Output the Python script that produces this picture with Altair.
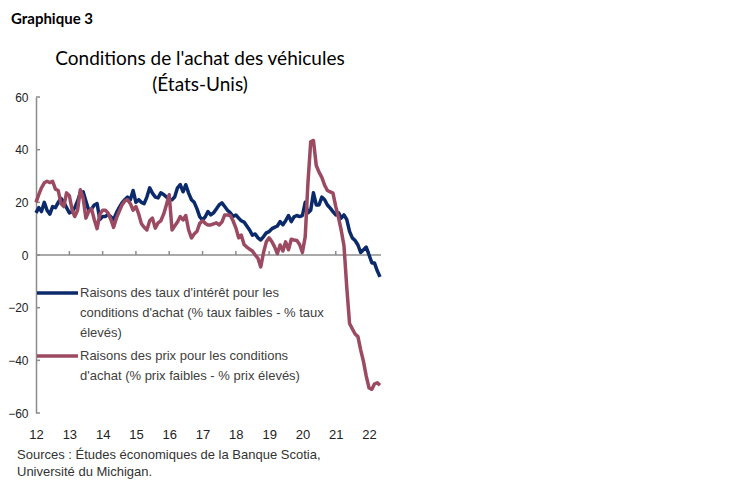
import altair as alt
import pandas as pd

months = pd.date_range("2012-01-01", "2022-05-01", freq="MS")

taux = [16, 18, 16.5, 20, 17, 15.5, 18.4, 18, 20, 21.5, 20, 18,
        16, 16.5, 18, 20.5, 23.6, 24, 20.5, 17, 17.5, 19, 19.5, 13.5,
        14.6, 14.6, 15.5, 14.5, 13.5, 16, 18, 19.8, 21, 22, 21, 24.5,
        20, 21, 20, 19.5, 22, 25.5, 23.5, 22, 21.7, 23.6, 23, 22,
        21, 21, 22, 25.5, 26.7, 24, 26.7, 23.5, 21, 20, 17.5, 14.5,
        13.3, 14.6, 16.5, 15.2, 16, 17.5, 19, 19.8, 18.4, 17, 16, 14.6,
        15.2, 14, 13, 12.5, 11, 9.5, 7.5, 8, 6.5, 5.7, 7, 8.4,
        8.9, 10, 10.5, 11, 12.7, 11.5, 13, 15, 12.7, 14.5, 15, 14.6,
        15, 20, 16, 17, 23.6, 19, 19, 22, 21, 19, 17.8, 16.5,
        15.2, 16, 14, 15.2, 13.5, 9, 6.5, 5.5, 3.8, 1, 2, 3,
        0, -3, -3, -6, -8.3]

prix = [20, 23, 25.5, 27.4, 28, 27.5, 28, 25, 24.5, 19.5, 18.4, 23.6,
        22.5, 17, 14.6, 17, 24.8, 21.5, 14, 16.5, 17.5, 13.5, 10, 15.5,
        17, 17, 16, 13.5, 10.5, 14, 16.5, 19, 20.5, 21, 19.5, 17,
        18.4, 15.5, 12, 10.5, 9.5, 13, 14, 10.2, 12.2, 13, 15.5, 19,
        22.9, 9.5, 11, 12.5, 14.6, 13.3, 15, 9.5, 6.5, 8, 9, 12,
        13, 12, 11.4, 11.4, 11.8, 12.2, 11.4, 12.5, 15.2, 15.2, 15, 13,
        10.3, 6.5, 7.6, 4, 3, 2.2, 1.5, 0, -1.3, -4.5, 1, 5,
        6.5, 5, 3.2, 0.5, 3.8, 1.5, 5, 2, 6, 5.7, 5.5, 4,
        1, 7, 27, 43, 43.5, 34, 31.5, 29.5, 26.5, 24.5, 24, 23.5,
        18.4, 14, 9.5, 3.5, -12, -26, -28, -30, -31, -36, -40.5, -46,
        -50.5, -51, -49, -48.5, -49.5]

series_names = [
    "Raisons des taux d'intérêt pour les conditions d'achat (% taux faibles - % taux élevés)",
    "Raisons des prix pour les conditions d'achat (% prix faibles - % prix élevés)",
]
legend_lines = [
    ["Raisons des taux d'intérêt pour les", "conditions d'achat (% taux faibles - % taux", "élevés)"],
    ["Raisons des prix pour les conditions", "d'achat (% prix faibles - % prix élevés)"],
]
colors = ["#0b2a6b", "#9b4a62"]
y_ticks = [-60, -40, -20, 0, 20, 40, 60]
year_ticks = [f"{y}-01-01" for y in range(2013, 2023)]
year_labels = [f"{y}-01-01" for y in range(2012, 2023)]

W, H = 344, 316
GRAY = "#8c8c8c"
FONT = "Liberation Sans"

df = pd.DataFrame({
    "date": list(months) * 2,
    "value": taux + prix,
    "serie": [series_names[0]] * len(taux) + [series_names[1]] * len(prix),
})

x_scale = alt.Scale(domain=["2012-01-01", "2022-05-01"])
y_scale = alt.Scale(domain=[-60, 60])

x_axis = alt.Axis(format="%y", values=year_labels,
                  labelFont=FONT, labelFontSize=13, labelColor="#222",
                  labelPadding=15, ticks=False, domain=False, grid=False,
                  title=None, labelFlush=False, labelOverlap=False)
y_axis = alt.Axis(values=y_ticks, labelFont=FONT, labelFontSize=12, labelColor="#222",
                  labelPadding=8, ticks=False, domain=True, domainColor=GRAY,
                  domainWidth=1.5, grid=False, title=None)

zero_df = pd.DataFrame({"y": [0]})
zero = alt.Chart(zero_df).mark_rule(color=GRAY, strokeWidth=1.5).encode(
    y=alt.Y("y:Q", scale=y_scale, axis=y_axis), x=alt.value(0), x2=alt.value(W + 1))

xt_df = pd.DataFrame({"date": pd.to_datetime(year_ticks), "y0": 0, "y1": 1.5})
xticks = alt.Chart(xt_df).mark_rule(color=GRAY, strokeWidth=1.5).encode(
    x=alt.X("date:T", scale=x_scale, axis=x_axis),
    y=alt.Y("y0:Q", scale=y_scale, axis=y_axis), y2="y1:Q")

yt_df = pd.DataFrame({"y": y_ticks})
yticks = alt.Chart(yt_df).mark_rule(color=GRAY, strokeWidth=1.5).encode(
    y=alt.Y("y:Q", scale=y_scale, axis=y_axis), x=alt.value(0), x2=alt.value(4))

lines = alt.Chart(df).mark_line(strokeWidth=3.5, strokeJoin="round").encode(
    x=alt.X("date:T", scale=x_scale, axis=x_axis),
    y=alt.Y("value:Q", scale=y_scale, axis=y_axis),
    color=alt.Color("serie:N", scale=alt.Scale(domain=series_names, range=colors), legend=None),
    order=alt.Order("serie:N"),
)


def txt(s, x, y, size, weight="normal", align="left", font=FONT, color="#000", baseline="alphabetic"):
    return alt.Chart(pd.DataFrame({"t": [s]})).mark_text(
        align=align, baseline=baseline, font=font, fontSize=size, fontWeight=weight,
        color=color).encode(x=alt.value(x), y=alt.value(y), text="t:N")


# legend
leg_layers = []
leg_y = [196, 259]
for i in range(2):
    ldf = pd.DataFrame({"k": [0]})
    leg_layers.append(alt.Chart(ldf).mark_rule(color=colors[i], strokeWidth=3.5).encode(
        x=alt.value(1), x2=alt.value(42), y=alt.value(leg_y[i])))
    for r, line in enumerate(legend_lines[i]):
        leg_layers.append(txt(line, 44, leg_y[i] + 20 * r, 13, color="#404040", baseline="middle"))

texts = [
    txt("Graphique 3", -25, -73, 15, weight="bold", font="Lato"),
    txt("Conditions de l'achat des véhicules", 164, -32, 19, align="center", font="Lato"),
    txt("(États-Unis)", 164, -6, 19, align="center", font="Lato"),
    txt("Sources : Études économiques de la Banque Scotia,", -19, 362, 13, color="#333"),
    txt("Université du Michigan.", -19, 379, 13, color="#333"),
]

chart = alt.layer(zero, xticks, yticks, lines, *leg_layers, *texts).properties(
    width=W, height=H,
    background="white",
    autosize=alt.AutoSizeParams(type="none"),
    padding={"left": 28, "top": 89, "right": 350, "bottom": 70},
).configure_view(strokeWidth=0, stroke="transparent")

chart.save("out.html", embed_options={"renderer": "svg", "actions": False})
